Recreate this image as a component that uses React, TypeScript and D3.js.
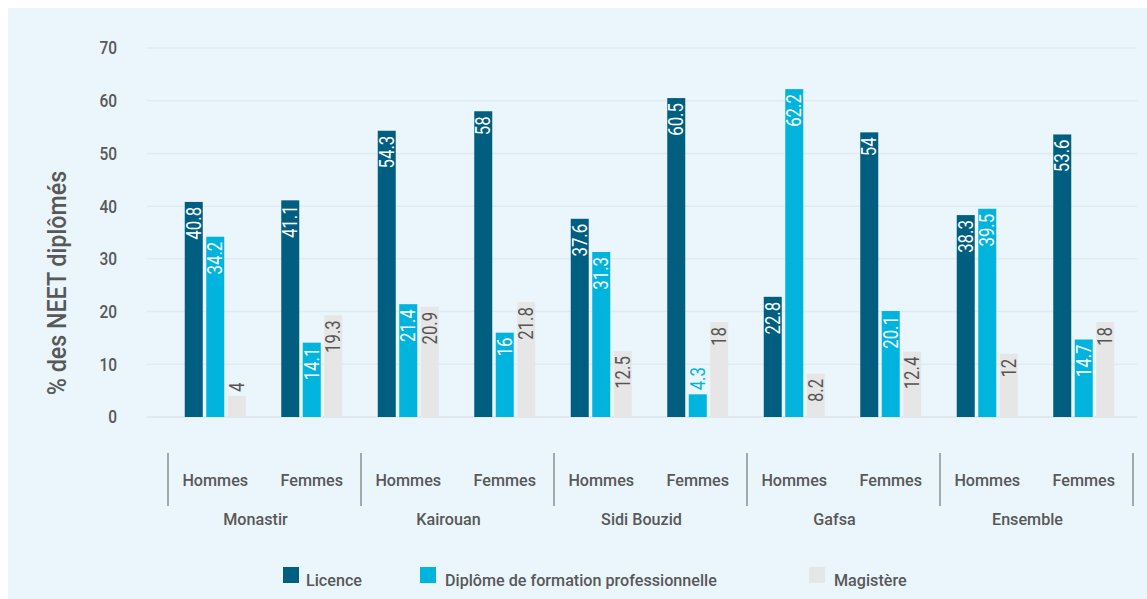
import React from "react";
import * as d3 from "d3";

const regions = ["Monastir", "Kairouan", "Sidi Bouzid", "Gafsa", "Ensemble"];
const genders = ["Hommes", "Femmes"];
const seriesNames = ["Licence", "Diplôme de formation professionnelle", "Magistère"];
const licence = [40.8, 41.1, 54.3, 58, 37.6, 60.5, 22.8, 54, 38.3, 53.6];
const diplome = [34.2, 14.1, 21.4, 16, 31.3, 4.3, 62.2, 20.1, 39.5, 14.7];
const magistere = [4, 19.3, 20.9, 21.8, 12.5, 18, 8.2, 12.4, 12, 18];
const yTicks = [0, 10, 20, 30, 40, 50, 60, 70];
const yTitle = "% des NEET diplômés";

const COLORS = ["#005F80", "#00B4DE", "#E6E6E6"];
const INSIDE_TEXT = ["#FFFFFF", "#FFFFFF", "#555555"];
const OUTSIDE_TEXT = ["#005F80", "#00B4DE", "#555555"];
const TEXT = "#585858";
const FONT = "Roboto, 'Noto Sans', sans-serif";

function T({ x, y, rot = 0, sx = 1, children, ...props }: any) {
  return (
    <g transform={`translate(${x},${y}) rotate(${rot}) scale(${sx},1)`}>
      <text fontFamily={FONT} {...props}>
        {children}
      </text>
    </g>
  );
}

export default function App() {
  const series = [licence, diplome, magistere];
  const left = 168;
  const regionW = 193;
  const x0 = d3
    .scaleBand<string>()
    .domain(regions)
    .range([left, left + regionW * regions.length])
    .padding(0);
  const x1 = d3.scaleBand<string>().domain(genders).range([0, x0.bandwidth()]).padding(0);
  const barW = 18;
  const barStep = 21.5;
  const y = d3.scaleLinear().domain([0, 70]).range([417, 48]);
  const gridX0 = 147;
  const gridX1 = 1137;

  const groups: { region: string; gender: string; idx: number; cx: number }[] = [];
  regions.forEach((r, ri) =>
    genders.forEach((g, gi) => {
      const idx = ri * 2 + gi;
      groups.push({ region: r, gender: g, idx, cx: (x0(r) as number) + (x1(g) as number) + x1.bandwidth() / 2 - 1 });
    })
  );

  const legendLayout = [
    { sq: 283, tx: 306 },
    { sq: 420, tx: 445 },
    { sq: 809, tx: 834 },
  ];

  return (
    <svg
      width={1147}
      height={599}
      style={{ position: "absolute", left: 0, top: 0, display: "block" }}
    >
      <rect x={8} y={8} width={1139} height={591} fill="#EAF6FB" />
      {/* grid */}
      {yTicks.map((t) => (
        <line
          key={"g" + t}
          x1={gridX0}
          x2={gridX1}
          y1={y(t)}
          y2={y(t)}
          stroke={t === 0 ? "#DCE6EA" : "#DFEBEF"}
          strokeWidth={t === 0 ? 1.5 : 1.5}
        />
      ))}
      {/* y tick labels */}
      {yTicks.map((t) => (
        <T
          key={"t" + t}
          x={117}
          y={y(t)}
          sx={0.86}
          fontSize={18}
          fontWeight={500}
          fill={TEXT}
          textAnchor="end"
          dominantBaseline="central"
        >
          {t}
        </T>
      ))}
      {/* y title */}
      <T
        x={58}
        y={283}
        rot={-90}
        sx={0.93}
        fontSize={25}
        fontWeight={500}
        fill={TEXT}
        textAnchor="middle"
        dominantBaseline="central"
      >
        {yTitle}
      </T>
      {/* bars */}
      {groups.map((g) =>
        series.map((s, si) => {
          const v = s[g.idx];
          const cx = g.cx + (si - 1) * barStep;
          const top = y(v);
          const h = y(0) - top;
          const inside = h >= 30;
          return (
            <g key={g.idx + "-" + si}>
              <rect x={cx - barW / 2} y={top} width={barW} height={h} fill={COLORS[si]} />
              {inside ? (
                <T
                  x={cx}
                  y={top + 5}
                  rot={-90}
                  sx={0.8}
                  fontSize={21}
                  fontWeight={400}
                  fill={INSIDE_TEXT[si]}
                  textAnchor="end"
                  dominantBaseline="central"
                >
                  {v}
                </T>
              ) : (
                <T
                  x={cx}
                  y={top - 4}
                  rot={-90}
                  sx={0.8}
                  fontSize={21}
                  fontWeight={400}
                  fill={OUTSIDE_TEXT[si]}
                  textAnchor="start"
                  dominantBaseline="central"
                >
                  {v}
                </T>
              )}
            </g>
          );
        })
      )}
      {/* x axis: separators */}
      {[...regions, "end"].map((r, i) => {
        const xx = left + regionW * i;
        return (
          <line key={"s" + i} x1={xx} x2={xx} y1={453} y2={506} stroke="#8A8F91" strokeWidth={1.5} />
        );
      })}
      {groups.map((g) => (
        <T
          key={"gl" + g.idx}
          x={g.cx}
          y={486}
          sx={0.95}
          fontSize={17}
          fontWeight={500}
          fill={TEXT}
          textAnchor="middle"
        >
          {g.gender}
        </T>
      ))}
      {regions.map((r) => (
        <T
          key={"rl" + r}
          x={(x0(r) as number) + regionW / 2 - 9}
          y={525}
          sx={0.95}
          fontSize={17}
          fontWeight={500}
          fill={TEXT}
          textAnchor="middle"
        >
          {r}
        </T>
      ))}
      {/* legend */}
      {seriesNames.map((n, i) => (
        <g key={"lg" + i}>
          <rect x={legendLayout[i].sq} y={567} width={16} height={16} fill={COLORS[i]} />
          <T
            x={legendLayout[i].tx}
            y={586}
            sx={0.95}
            fontSize={17}
            fontWeight={500}
            fill={TEXT}
            textAnchor="start"
          >
            {n}
          </T>
        </g>
      ))}
    </svg>
  );
}
